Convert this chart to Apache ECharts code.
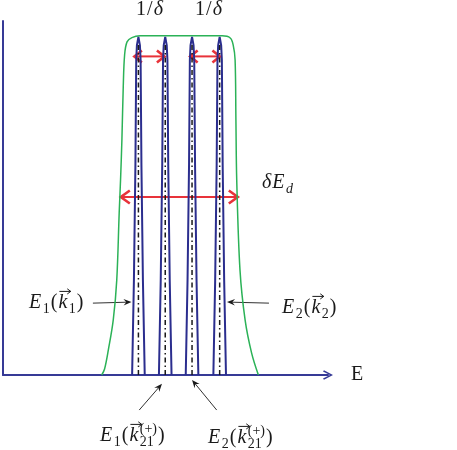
<!DOCTYPE html>
<html>
<head>
<meta charset="utf-8">
<script src="https://cdn.jsdelivr.net/npm/echarts@6/dist/echarts.min.js"></script>
<style>
html, body { margin: 0; padding: 0; background: #fff; }
#chart { width: 457px; height: 450px; }
</style>
</head>
<body>
<div id="chart"></div>
<script>
// energy in units of the level spacing 1/delta, height normalised to 1
const peakCenters = [5.0, 5.99, 6.98, 8.0];
const peakLevels = [0, 0.268, 0.593, 0.89, 0.932, 0.955];
const peakHalfWidths = [0.233, 0.166, 0.111, 0.081, 0.055, 0];
const dashTop = 0.94;

// green envelope (window of width dE_d)
const envelopeX = [3.645, 3.75, 3.89, 4.07, 4.20, 4.29, 4.34, 4.39, 4.44, 4.49, 4.58, 4.76, 5.06,
  6.5, 8.09, 8.39, 8.50, 8.57, 8.60, 8.63, 8.75, 8.94, 9.18, 9.43];
const envelopeY = [0, 0.017, 0.071, 0.155, 0.268, 0.458, 0.551, 0.664, 0.814, 0.904, 0.941, 0.953, 0.958,
  0.958, 0.958, 0.952, 0.932, 0.89, 0.72, 0.551, 0.297, 0.155, 0.062, 0];

// red double arrows: [from, to] along x, at height y
const spacingArrows = [[4.85, 5.96], [6.91, 8.01]];
const spacingArrowY = 0.9;
const widthArrow = [4.35, 8.67];
const widthArrowY = 0.503;

// black pointers: [from, tip]
const pointers = [
  [[3.32, 0.203], [4.745, 0.206]],
  [[9.82, 0.203], [8.27, 0.206]],
  [[5.03, -0.099], [5.87, -0.025]],
  [[7.89, -0.099], [6.98, -0.014]]
];

const BLUE = '#363a96';
const PEAK = '#2b2e8e';
const GREEN = '#2bb257';
const RED = '#e8333a';
const INK = '#1a1a1a';
const SERIF = '"Liberation Serif", "DejaVu Serif", serif';

const chart = echarts.init(document.getElementById('chart'));

function peakLine(c) {
  const pts = [];
  peakLevels.forEach((lv, i) => pts.push([c - peakHalfWidths[i], lv]));
  for (let i = peakLevels.length - 2; i >= 0; i--) pts.push([c + peakHalfWidths[i], peakLevels[i]]);
  return pts;
}

const series = [
  {
    type: 'line',
    data: envelopeX.map((x, i) => [x, envelopeY[i]]),
    smooth: 0.35,
    symbol: 'none',
    lineStyle: { color: GREEN, width: 1.5 },
    z: 2
  },
  ...peakCenters.map(c => ({
    type: 'line',
    data: peakLine(c),
    symbol: 'none',
    lineStyle: { color: PEAK, width: 2 },
    z: 3
  })),
  ...peakCenters.map(c => ({
    type: 'line',
    data: [[c, 0], [c, dashTop]],
    symbol: 'none',
    lineStyle: { color: INK, width: 1.5, type: [5, 3, 1.5, 3] },
    z: 4
  }))
];

chart.setOption({
  animation: false,
  grid: { left: 3, right: 129, top: 21, bottom: 75 },
  xAxis: {
    type: 'value',
    min: 0,
    max: 12,
    name: 'E',
    nameLocation: 'end',
    nameGap: 23,
    nameTextStyle: { fontFamily: SERIF, fontSize: 20, color: INK },
    axisLine: {
      show: true,
      symbol: ['none', 'path://M5,0 L10,9.6 L8.8,10.6 L5,3.2 L1.2,10.6 L0,9.6 Z'],
      symbolSize: [12, 10],
      lineStyle: { color: BLUE, width: 2 }
    },
    axisTick: { show: false },
    axisLabel: { show: false },
    splitLine: { show: false }
  },
  yAxis: {
    type: 'value',
    min: 0,
    max: 1,
    axisLine: { show: true, lineStyle: { color: BLUE, width: 2 } },
    axisTick: { show: false },
    axisLabel: { show: false },
    splitLine: { show: false }
  },
  series: series
});

const px = (x, y) => chart.convertToPixel({ gridIndex: 0 }, [x, y]);

function doubleArrow(x1, x2, y, head) {
  const a = px(x1, y), b = px(x2, y);
  const out = [{
    type: 'line',
    shape: { x1: a[0] + 1, y1: a[1], x2: b[0] - 1, y2: b[1] },
    style: { stroke: RED, lineWidth: 2 }
  }];
  [[a, 1], [b, -1]].forEach(([p, s]) => {
    out.push({
      type: 'polyline',
      shape: { points: [[p[0] + s * head[0], p[1] - head[1]], [p[0], p[1]], [p[0] + s * head[0], p[1] + head[1]]] },
      style: { stroke: RED, lineWidth: 2.6, fill: null }
    });
  });
  return out;
}

function pointer(from, to) {
  const a = px(from[0], from[1]), b = px(to[0], to[1]);
  const dx = b[0] - a[0], dy = b[1] - a[1], L = Math.hypot(dx, dy);
  const ux = dx / L, uy = dy / L, nx = -uy, ny = ux;
  const len = 8, hw = 3.3;
  return [
    { type: 'line', shape: { x1: a[0], y1: a[1], x2: b[0] - ux * 4, y2: b[1] - uy * 4 },
      style: { stroke: INK, lineWidth: 0.9 } },
    { type: 'polygon', shape: { points: [
      [b[0], b[1]],
      [b[0] - ux * len + nx * hw, b[1] - uy * len + ny * hw],
      [b[0] - ux * len * 0.65, b[1] - uy * len * 0.65],
      [b[0] - ux * len - nx * hw, b[1] - uy * len - ny * hw]
    ] }, style: { fill: INK } }
  ];
}

const ctx2d = document.createElement('canvas').getContext('2d');
function measure(t, size, it) {
  ctx2d.font = (it ? 'italic ' : '') + size + 'px ' + SERIF;
  return ctx2d.measureText(t).width;
}

// simple math-like label: italic letters, sub/superscripts, vector arrows
function mathText(x0, base, parts, size, align) {
  const items = [];
  let x = 0;
  parts.forEach(p => {
    if (p.sub || p.sup) {
      const s = Math.round(size * 0.72);
      const wSub = p.sub ? measure(p.sub, s, p.it) : 0;
      const wSup = p.sup ? measure(p.sup, s, false) : 0;
      if (p.sub) items.push({ t: p.sub, x: x + 0.5, base: base + size * 0.22, size: s, it: p.it });
      if (p.sup) items.push({ t: p.sup, x: x + 0.5, base: base - size * 0.45, size: s });
      x += Math.max(wSub, wSup) + 1.5;
    } else {
      const w = measure(p.t, size, p.it);
      items.push({ t: p.t, x: x, base: base, size: size, it: p.it, vec: p.vec, w: w });
      x += w + 1;
    }
  });
  const left = align === 'center' ? x0 - x / 2 : x0;
  const out = [];
  items.forEach(it => {
    out.push({
      type: 'text',
      x: left + it.x,
      y: it.base - it.size * 0.34,
      style: {
        text: it.t,
        font: (it.it ? 'italic ' : '') + it.size + 'px ' + SERIF,
        fill: INK,
        align: 'left',
        verticalAlign: 'middle'
      }
    });
    if (it.vec) {
      const ax1 = left + it.x + 1, ax2 = left + it.x + it.w + 3.5, ay = it.base - it.size * 0.93;
      out.push({ type: 'line', shape: { x1: ax1, y1: ay, x2: ax2, y2: ay }, style: { stroke: INK, lineWidth: 1 } });
      out.push({ type: 'polyline', shape: { points: [[ax2 - 3.5, ay - 2.6], [ax2, ay], [ax2 - 3.5, ay + 2.6]] },
        style: { stroke: INK, lineWidth: 1, fill: null } });
    }
  });
  return out;
}

const graphics = [];
spacingArrows.forEach(a => graphics.push(...doubleArrow(a[0], a[1], spacingArrowY, [7.5, 6])));
graphics.push(...doubleArrow(widthArrow[0], widthArrow[1], widthArrowY, [9, 6.5]));
pointers.forEach(p => graphics.push(...pointer(p[0], p[1])));

const fs = 20;
graphics.push(...mathText(150, 17, [{ t: '1' }, { t: '/' }, { t: 'δ', it: true }], fs, 'center'));
graphics.push(...mathText(209, 17, [{ t: '1' }, { t: '/' }, { t: 'δ', it: true }], fs, 'center'));
graphics.push(...mathText(262, 190, [{ t: 'δ', it: true }, { t: 'E', it: true }, { sub: 'd', it: true }], fs));
graphics.push(...mathText(29, 310, [{ t: 'E', it: true }, { sub: '1' }, { t: '(' }, { t: 'k', it: true, vec: true }, { sub: '1' }, { t: ')' }], fs));
graphics.push(...mathText(282, 315, [{ t: 'E', it: true }, { sub: '2' }, { t: '(' }, { t: 'k', it: true, vec: true }, { sub: '2' }, { t: ')' }], fs));
graphics.push(...mathText(100, 443, [{ t: 'E', it: true }, { sub: '1' }, { t: '(' }, { t: 'k', it: true, vec: true }, { sub: '21', sup: '(+)' }, { t: ')' }], fs));
graphics.push(...mathText(208, 445, [{ t: 'E', it: true }, { sub: '2' }, { t: '(' }, { t: 'k', it: true, vec: true }, { sub: '21', sup: '(+)' }, { t: ')' }], fs));

chart.setOption({ graphic: graphics });
</script>
</body>
</html>
